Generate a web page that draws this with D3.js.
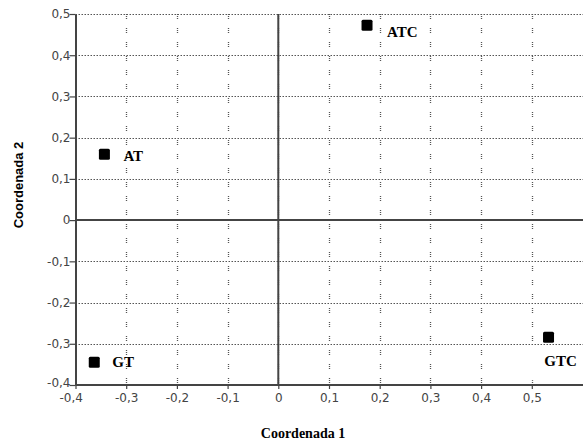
<!DOCTYPE html>
<html><head><meta charset="utf-8">
<script src="https://cdn.jsdelivr.net/npm/d3@7/dist/d3.min.js"></script>
<style>body{margin:0;background:#fff}</style>
</head><body>
<svg id="c" width="583" height="442"></svg>
<script>
const labels = ["ATC", "AT", "GT", "GTC"];
const coord1 = [0.175, -0.343, -0.363, 0.533];
const coord2 = [0.473, 0.160, -0.345, -0.284];
const xTicks = [-0.4, -0.3, -0.2, -0.1, 0, 0.1, 0.2, 0.3, 0.4, 0.5];
const yTicks = [-0.4, -0.3, -0.2, -0.1, 0, 0.1, 0.2, 0.3, 0.4, 0.5];

const svg = d3.select("#c");
const x = d3.scaleLinear().domain([-0.4, 0.6]).range([75.5, 582.5]);
const y = d3.scaleLinear().domain([-0.4, 0.5]).range([385, 14]);
const fmt = v => (Math.abs(v) < 1e-9 ? "0" : d3.format(".1f")(v).replace(".", ",").replace("−", "-"));

// grid
const g = svg.append("g");
g.selectAll(".hg").data(yTicks.filter(v => v > -0.4)).join("line")
  .attr("x1", x(-0.4)).attr("x2", 583)
  .attr("y1", d => Math.round(y(d)) + 0.5).attr("y2", d => Math.round(y(d)) + 0.5)
  .attr("stroke", "#555").attr("stroke-width", 1).attr("stroke-dasharray", "1.5,1.5");
g.selectAll(".vg").data(xTicks.filter(v => v > -0.4)).join("line")
  .attr("x1", d => Math.round(x(d)) + 0.5).attr("x2", d => Math.round(x(d)) + 0.5)
  .attr("y1", y(0.5)).attr("y2", y(-0.4))
  .attr("stroke", "#555").attr("stroke-width", 1.3).attr("stroke-dasharray", "1,1,1,1,1,9");

// white box behind GTC label (as in reference)
const gi = labels.indexOf("GTC");
svg.append("rect").attr("x", x(coord1[gi]) - 21).attr("y", y(coord2[gi]) + 8)
  .attr("width", 60).attr("height", 35).attr("fill", "#fff");

// zero lines
svg.append("line").attr("x1", x(-0.4)).attr("x2", 583).attr("y1", y(0)).attr("y2", y(0))
  .attr("stroke", "#444").attr("stroke-width", 2);
svg.append("line").attr("x1", x(0)).attr("x2", x(0)).attr("y1", y(0.5)).attr("y2", y(-0.4))
  .attr("stroke", "#444").attr("stroke-width", 2);

// axes
const xAxis = d3.axisBottom(x).tickValues(xTicks).tickFormat(fmt).tickSize(4).tickSizeOuter(0);
const yAxis = d3.axisLeft(y).tickValues(yTicks).tickFormat(fmt).tickSize(6).tickSizeOuter(0);
const ax = svg.append("g").attr("transform", `translate(0,${y(-0.4)})`).call(xAxis);
const ay = svg.append("g").attr("transform", `translate(${x(-0.4)},0)`).call(yAxis);
[ax, ay].forEach(a => {
  a.select(".domain").attr("stroke", "#444").attr("stroke-width", 2);
  a.selectAll(".tick line").attr("stroke", "#444").attr("stroke-width", 1.2);
  a.selectAll(".tick text").attr("fill", "#444").style("font-family", "DejaVu Sans, sans-serif").style("font-size", "12px");
});
ax.select(".domain").attr("d", `M${x(-0.4)},0H583`);
ax.selectAll(".tick text").attr("dy", "0.85em");
ay.selectAll(".tick text").attr("x", -5);
ay.selectAll(".tick").filter(d => d === -0.4).select("text").attr("dy", "0.1em");
ax.selectAll(".tick").filter(d => d === -0.4).select("text").attr("dx", "-0.4em");

// points
const pts = labels.map((l, i) => ({ l, a: coord1[i], b: coord2[i] }));
svg.selectAll(".pt").data(pts).join("rect")
  .attr("x", d => x(d.a) - 5.5).attr("y", d => y(d.b) - 5.5)
  .attr("width", 11).attr("height", 11).attr("rx", 1.5).attr("fill", "#000");

const off = { ATC: [20, 12, "start"], AT: [19, 7, "start"], GT: [18, 5, "start"], GTC: [12, 29, "middle"] };
svg.selectAll(".lb").data(pts).join("text")
  .attr("x", d => x(d.a) + off[d.l][0]).attr("y", d => y(d.b) + off[d.l][1])
  .attr("text-anchor", d => off[d.l][2])
  .style("font-family", "Liberation Serif, serif").style("font-weight", "bold").style("font-size", "15px")
  .text(d => d.l);

// axis titles
svg.append("text").attr("x", 303).attr("y", 438).attr("text-anchor", "middle")
  .style("font-family", "Liberation Serif, serif").style("font-weight", "bold").style("font-size", "14px")
  .text("Coordenada 1");
svg.append("text").attr("transform", "translate(23,185) rotate(-90)").attr("text-anchor", "middle")
  .style("font-family", "Liberation Sans, Arial, sans-serif").style("font-weight", "bold").style("font-size", "13px")
  .text("Coordenada 2");
</script>
</body></html>
